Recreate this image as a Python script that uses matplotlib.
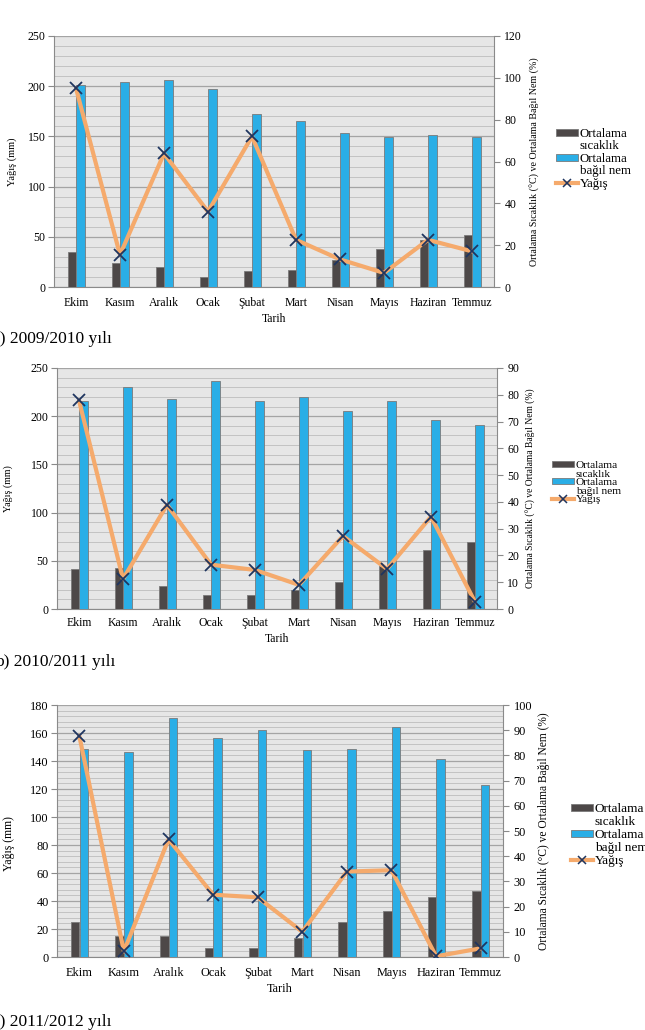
import matplotlib
matplotlib.use('Agg')
import matplotlib.pyplot as plt
import numpy as np
from matplotlib.ticker import MultipleLocator
from matplotlib.lines import Line2D
from matplotlib.patches import Patch

plt.rcParams['font.family'] = ['Liberation Serif', 'DejaVu Serif']

months = ['Ekim', 'Kasım', 'Aralık', 'Ocak', 'Şubat', 'Mart', 'Nisan', 'Mayıs', 'Haziran', 'Temmuz']

# (a) 2009/2010
sicaklik_a = [16.7, 11.6, 9.7, 4.9, 7.8, 8.3, 12.9, 18.2, 22.6, 24.7]
nem_a = [96.4, 97.8, 98.8, 94.5, 82.8, 79.2, 73.6, 71.8, 72.8, 71.8]
yagis_a = [198, 32, 133, 75, 150, 47, 27.5, 14, 47, 35.5]

# (b) 2010/2011
sicaklik_b = [15.1, 15.3, 8.7, 5.4, 5.1, 7.1, 10.1, 16.1, 21.9, 24.9]
nem_b = [77.7, 82.9, 78.4, 85.0, 77.7, 79.3, 73.8, 77.7, 70.6, 68.7]
yagis_b = [216.5, 31, 108, 46, 40.5, 25, 75.7, 41.5, 95.8, 7.3]

# (c) 2011/2012
sicaklik_c = [13.9, 8.3, 8.3, 3.7, 3.4, 7.7, 13.9, 18.4, 24.0, 26.3]
nem_c = [82.6, 81.5, 94.8, 86.8, 90.0, 82.2, 82.6, 91.1, 78.5, 68.2]
yagis_c = [158, 4, 84, 44.5, 42.6, 18, 61, 62, 0.5, 6.2]

labels_leg = ['Ortalama', 'sıcaklık', 'Ortalama', 'bağıl nem', 'Yağış']
captions = ['a) 2009/2010 yılı', 'b) 2010/2011 yılı', 'c) 2011/2012 yılı']
ylabel_left = 'Yağış (mm)'
ylabel_right = 'Ortalama Sıcaklık (°C) ve Ortalama Bağıl Nem (%)'
xlabel = 'Tarih'

DARK = '#4d4848'
BLUE = '#2aaee6'
EDGE = '#7a7a7a'
ORANGE = '#f5aa6c'
NAVY = '#1f3560'
BG = '#e6e6e6'
AXC = '#8a8a8a'

W, H = 645, 1030
fig = plt.figure(figsize=(W / 100, H / 100), dpi=100)


def rect(x0, y0, x1, y1):
    return [x0 / W, 1 - y1 / H, (x1 - x0) / W, (y1 - y0) / H]


def panel(r, yag, sic, nem, lmax, lstep, lminor, rmax, rstep, cfg):
    x = np.arange(len(months))
    ax = fig.add_axes(r)
    ax.set_facecolor(BG)
    ax.set_xlim(-0.5, 9.5)
    ax.set_ylim(0, lmax)
    ax.yaxis.set_major_locator(MultipleLocator(lstep))
    ax.yaxis.set_minor_locator(MultipleLocator(lminor))
    ax.set_axisbelow(True)
    ax.grid(which='minor', axis='y', color='#c2c2c2', lw=0.7)
    ax.grid(which='major', axis='y', color='#a4a4a4', lw=0.9)
    ax.set_xticks(x)
    ax.set_xticklabels(months, fontsize=cfg['tfs'])
    ax.tick_params(axis='x', length=0, pad=cfg['xpad'])
    ax.tick_params(axis='y', which='major', length=4, color=AXC, labelsize=cfg['tfs'], pad=2)
    ax.tick_params(axis='y', which='minor', length=0)
    for s in ['top', 'right']:
        ax.spines[s].set_visible(False)
    for s in ['left', 'bottom']:
        ax.spines[s].set_color(AXC)
    ax.set_xlabel(xlabel, fontsize=cfg['tfs'], labelpad=cfg['xlpad'])
    ax.set_ylabel(ylabel_left, fontsize=cfg['lfs'])
    ax.yaxis.set_label_coords(cfg['ylx'], cfg['yly'])

    axr = ax.twinx()
    axr.set_ylim(0, rmax)
    axr.yaxis.set_major_locator(MultipleLocator(rstep))
    axr.bar(x - 0.095, sic, 0.19, color=DARK, edgecolor=EDGE, lw=0.6, label='Ortalama sıcaklık')
    axr.bar(x + 0.1, nem, 0.19, color=BLUE, edgecolor=EDGE, lw=0.6, label='Ortalama bağıl nem')
    for s in ['top', 'left', 'bottom']:
        axr.spines[s].set_visible(False)
    axr.spines['right'].set_color(AXC)
    axr.tick_params(axis='y', length=4, color=AXC, labelsize=cfg['tfs'], pad=3.5)
    axr.set_ylabel(ylabel_right, fontsize=cfg['rfs'], rotation=90)
    axr.yaxis.set_label_coords(cfg['rlx'], 0.5)
    axr.yaxis.label.set_va('center')
    axr.yaxis.label.set_ha('center')

    axl = fig.add_axes(r, sharex=ax, sharey=ax)
    axl.patch.set_visible(False)
    axl.axis('off')
    axl.plot(x, yag, color=ORANGE, lw=3, marker='x', ms=8, mec=NAVY, mew=1.3,
             solid_capstyle='round', label='Yağış')

    handles = [Patch(facecolor=DARK, edgecolor=EDGE, lw=0.6),
               Line2D([], [], linestyle='none'),
               Patch(facecolor=BLUE, edgecolor=EDGE, lw=0.6),
               Line2D([], [], linestyle='none'),
               Line2D([], [], color=ORANGE, lw=3, marker='x', ms=6, mec=NAVY, mew=1.1)]
    fig.legend(handles, labels_leg, loc='upper left', bbox_to_anchor=cfg['leg'],
               frameon=False, fontsize=cfg['legfs'], handlelength=cfg['hl'], handleheight=0.42,
               handletextpad=0.15, labelspacing=cfg['legsp'], borderpad=0, borderaxespad=0)
    fig.text(cfg['capx'], cfg['capy'], cfg['cap'], fontsize=12.5, va='center', ha='left')


panel(rect(54, 36, 494, 287), yagis_a, sicaklik_a, nem_a, 250, 50, 10, 120, 20,
      dict(tfs=8.5, xpad=7, xlpad=3, lfs=7.5, ylx=-0.084, yly=0.5, rfs=7.2, rlx=1.093,
           leg=(556 / W, 1 - 128 / H), legfs=9.3, legsp=0.03, hl=1.7,
           capx=-8 / W, capy=1 - 339 / H, cap=captions[0]))
panel(rect(57, 368, 497, 609), yagis_b, sicaklik_b, nem_b, 250, 50, 10, 90, 10,
      dict(tfs=8.5, xpad=6, xlpad=3, lfs=7.2, ylx=-0.1, yly=0.5, rfs=6.9, rlx=1.077,
           leg=(552 / W, 1 - 461 / H), legfs=8.2, legsp=-0.04, hl=1.95,
           capx=-5 / W, capy=1 - 662 / H, cap=captions[1]))
panel(rect(57, 705, 503, 957), yagis_c, sicaklik_c, nem_c, 180, 20, 4, 100, 10,
      dict(tfs=8.8, xpad=7, xlpad=3, lfs=8.5, ylx=-0.094, yly=0.452, rfs=8.3, rlx=1.092,
           leg=(571 / W, 1 - 803 / H), legfs=9.5, legsp=0.08, hl=1.65,
           capx=-8 / W, capy=1 - 1022 / H, cap=captions[2]))

fig.savefig('out.png', dpi=100)
